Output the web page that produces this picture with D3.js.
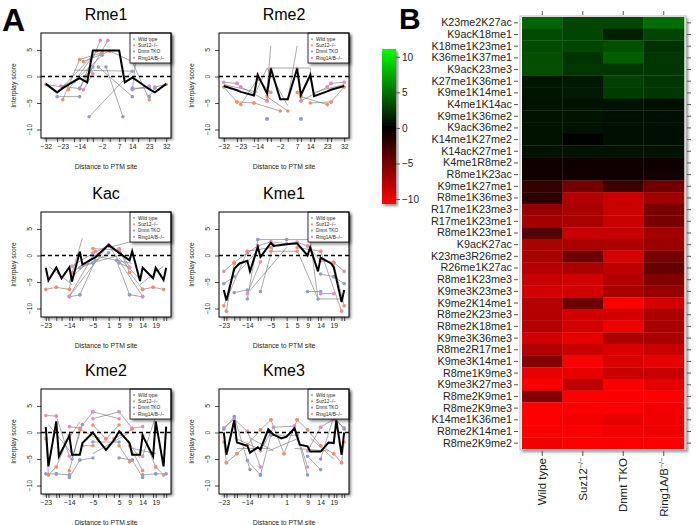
<!DOCTYPE html>
<html><head><meta charset="utf-8">
<script src="https://cdn.jsdelivr.net/npm/d3@7"></script>
<style>body{margin:0;background:#fff}svg{display:block;font-family:"Liberation Sans",Arial,sans-serif}</style>
</head><body><svg id="c" width="696" height="525"></svg>
<script>
// ---------- DATA ----------
const groupNames = ["Wild type", "Suz12\u2212/\u2212", "Dnmt TKO", "Ring1A/B\u2212/\u2212"];
const groupColors = ["#66C2A5", "#FC8D62", "#8DA0CB", "#E78AC3"];
const yTickVals = [-10, -5, 0, 5];

// Rme1
const rme1Pos = [-32,-26,-23,-17,-14,-10,-7,-2,2,7,10,14,17,23,26,32];
const rme1Mean = [-1.4,-3.0,-2.2,-0.9,-0.3,-1.1,4.9,4.9,4.9,4.9,-1.1,-0.2,-0.9,-2.4,-3.0,-1.4];
const rme1Labels = [-32,-23,-14,-2,7,14,23,32];
const rme1Segs = [
 [1,-32,-1.5,-23,-2.0],[1,-23,-4.4,-14,3.2],[1,-14,3.2,-2,4.5],[1,-12,2.8,2,4.8],[1,2,4.8,14,2.8],
 [1,14,2.8,23,-4.4],[1,26,-2.0,32,-1.5],[1,-20,-2.5,-5,4.8],
 [3,-24,-1.8,-14,-2.3],[3,-14,-2.3,-3,6.8],[3,-10,0.0,1,6.8],[3,14,-2.5,23,-1.8],[3,14,-2.5,16,3.5],[3,-12,-2.5,-7,0.5],
 [2,-26,-3.8,-14,-3.8],[2,-14,-2.2,-7,1.8],[2,-9,-7.6,14,1.0],[2,9,-7.6,0,1.8],[2,-4,1.8,14,-3.8],[2,23,-3.8,26,-2.2],
 [2,-23,-2.0,-7,4.0],[2,-17,-1.0,-2,4.0],[2,14,-2.2,23,-2.2],
 [-1,-17,1.2,15,1.0],[-1,-7,1.0,-23,-1.8]
];

// Rme2
const rme2Pos = [-32,-25,-23,-16,-14,-9,-7,-2,2,7,9,14,16,23,25,32];
const rme2Mean = [-1.8,-2.6,-2.9,-3.6,0.3,-3.2,1.5,-4.3,-4.3,1.5,-3.5,0.3,-3.7,-2.8,-2.5,-1.8];
const rme2Labels = [-32,-23,-14,-2,7,14,23,32];
const rme2Segs = [
 [1,-32,-2.0,-25,-4.8],[1,-25,-4.8,-16,-5.0],[1,-16,-5.0,-2,-6.5],[1,-23,-5.3,-14,-0.5],[1,-9,-3.8,2,-6.5],
 [1,7,-3.0,9,-3.8],[1,9,-3.8,23,-5.3],[1,14,-5.0,25,-4.8],[1,25,-4.8,32,-2.0],[1,-14,-0.5,-7,-3.0],
 [3,-32,-1.1,-25,-1.3],[3,-25,-1.3,-23,-2.0],[3,-23,-2.0,-9,-4.6],[3,-9,-4.6,-7,1.5],[3,7,1.5,9,-4.6],
 [3,9,-4.6,23,-2.0],[3,23,-2.0,25,-1.3],[3,25,-1.3,32,-1.1],
 [2,-9,-8.0,-9,-8.0],[2,9,-8.0,9,-8.0],
 [-1,-9,-2.5,-7,5.8],[-1,2,-4.3,7,5.8],[-1,-7,1.6,14,1.6],[-1,14,1.6,14,-1.0],[-1,-16,-3.7,-9,1.6],
 [-1,-9,1.6,2,-5.5],[-1,-32,-1.5,-14,-3.0],[-1,16,-3.0,32,-1.5]
];

// Kac
const kacPos = [-23,-22,-19,-17,-14,-13,-10,-9,-5,-4,1,5,9,10,13,14,18,19,22,23];
const kacMean = [-2.3,-4.7,-2.3,-4.3,-2.2,-4.9,0.7,-1.7,-0.6,-0.3,2.0,0.5,-0.9,0.8,-4.8,-2.3,-4.3,-2.3,-4.6,-2.3];
const kacLabels = [-23,-14,-5,1,5,9,14,19];
const kacSegs = [
 [1,-23,-6.4,-19,-6.0],[1,-19,-6.0,-14,-6.4],[1,-14,-6.4,-13,-3.2],[1,-13,-3.2,1,1.9],[1,-5,1.3,5,1.0],
 [1,5,1.3,9,-3.2],[1,9,-3.2,14,-6.4],[1,14,-6.4,18,-6.0],[1,18,-6.0,22,-6.4],[1,-14,-7.7,-4,0.8],
 [2,-14,-7.8,-10,-7.4],[2,-10,-7.4,-4,-0.9],[2,-10,-2.3,-5,-1.4],[2,-5,-1.4,1,0.5],[2,5,-1.4,9,-2.3],
 [2,9,-7.4,14,-7.8],[2,4,-0.9,9,-7.4],
 [3,-14,-7.7,1,2.0],[3,-13,-2.0,-5,0.4],[3,-5,0.4,1,1.9],[3,5,1.2,9,-2.2],[3,1,1.9,14,-7.7],
 [-1,-14,-5.0,-9,3.3],[-1,1,1.5,19,3.8],[-1,-13,-4.0,-5,-0.5],[-1,5,-0.5,13,-4.5],
 [-1,-10,-2.0,5,0.0],[-1,-5,0.0,10,-1.5],[-1,-22,-2.0,-13,-5.5],[-1,13,-5.5,22,-2.0]
];

// Kme1
const kme1Pos = [-23,-22,-19,-17,-14,-13,-10,-9,-5,-4,1,5,9,10,13,14,18,19,22,23];
const kme1Mean = [-6.5,-8.5,-2.5,-1.5,-1.0,-3.0,1.6,-0.3,2.4,1.8,2.1,2.3,0.0,1.5,-3.0,-0.4,-1.5,-2.2,-8.8,-6.5];
const kme1Labels = [-23,-14,-5,1,5,9,14,19];
const kme1Segs = [
 [3,-23,-3.0,-19,-1.3],[3,-19,-1.3,-14,0.5],[3,-14,0.5,-10,1.8],[3,-10,1.8,-5,2.6],[3,-5,2.6,1,2.2],
 [3,1,2.2,5,2.5],[3,5,2.5,9,1.8],[3,9,1.8,14,-1.0],[3,14,-1.0,19,-1.3],[3,19,-1.3,23,-3.0],
 [1,-22,-10.5,-19,-1.5],[1,-23,-9.5,-14,0.8],[1,-14,0.8,-5,1.5],[1,-5,0.8,5,0.8],[1,5,1.5,14,0.8],
 [1,14,0.8,22,-10.5],[1,19,-1.5,23,-9.5],
 [2,-23,-5.3,-19,-4.0],[2,-19,-7.0,-14,-6.5],[2,-14,-8.2,-10,3.0],[2,-10,3.0,1,3.0],[2,-9,-6.8,-4,2.0],
 [2,1,3.0,10,3.0],[2,9,-6.8,14,-6.8],[2,10,3.0,13,-8.2],[2,14,-3.5,19,-4.0],[2,19,-4.0,23,-5.3],
 [3,-14,-7.2,-9,-1.2],[3,14,-7.2,19,-7.2],
 [-1,-13,-6.6,1,1.5],[-1,5,1.0,13,-8.2],[-1,13,-8.2,22,-8.2],[-1,-19,-4.0,-10,1.0]
];

// Kme2
const kme2Pos = [-23,-22,-19,-18,-14,-13,-10,-9,-5,-3,0,3,5,9,10,13,14,18,19,22,23];
const kme2Mean = [1.0,-6.4,2.1,-4.5,-0.6,-4.2,-4.2,-2.0,0.0,-1.4,-3.3,-1.5,0.2,-2.0,-4.2,-4.2,-0.6,-4.5,2.1,-6.4,1.1];
const kme2Labels = [-23,-14,-5,1,5,9,14,19];
const kme2Segs = [
 [3,-23,3.2,-19,3.1],[3,-19,3.1,-14,-4.5],[3,-14,1.1,-10,0.8],[3,-10,0.8,-5,3.9],[3,-5,3.9,5,2.6],
 [3,-5,2.6,5,3.9],[3,5,3.9,10,0.8],[3,10,0.8,14,1.1],[3,14,-4.5,19,3.1],[3,19,3.1,23,3.2],
 [1,-22,-8.0,-19,-6.5],[1,-19,-6.5,-14,-0.5],[1,-14,-7.2,-10,0.6],[1,-10,0.6,-3,-1.2],[1,-5,1.4,0,-1.2],
 [1,0,-1.2,5,1.4],[1,3,-1.2,10,0.6],[1,9,-2.5,14,-7.2],[1,14,-0.5,19,-6.5],[1,19,-6.5,22,-8.0],
 [1,-9,-2.5,-5,-2.5],[1,5,-2.5,9,-5.5],[1,-23,-1.2,-22,-8.0],
 [2,-23,-7.8,-19,-7.8],[2,-19,-7.8,-14,-8.0],[2,-14,-8.5,-10,-5.2],[2,-10,-5.2,-5,-4.8],[2,5,-4.8,10,-5.2],
 [2,10,-5.2,14,-8.5],[2,14,-8.0,19,-7.8],[2,19,-7.8,23,-7.8],[2,-5,-1.8,5,-1.8],[2,-13,-5.0,-9,1.5],
 [-1,-22,1.5,-13,-4.0],[-1,-18,-4.0,-10,2.0],[-1,-5,-4.0,9,0.0],[-1,10,-3.0,19,-4.0],[-1,5,0.5,13,-4.8]
];

// Kme3
const kme3Pos = [-23,-22,-19,-18,-14,-13,-10,-9,-6,-4,-1,1,4,6,9,10,14,17,19,20,22,23];
const kme3Mean = [0.0,-4.2,2.3,-1.9,-2.5,-3.8,-2.8,-3.2,0.6,-0.4,-1.1,-0.8,0.8,-2.3,-2.6,-3.6,-3.6,-1.9,-2.0,2.3,-4.2,0.0];
const kme3Labels = [-23,-14,-5,1,5,9,14,19];
const kme3Segs = [
 [3,-23,0.9,-19,2.5],[3,-19,2.5,-14,0.2],[3,-14,0.2,-9,-6.5],[3,-9,-3.5,-4,1.0],[3,-4,1.0,4,1.2],
 [3,4,1.2,9,-6.5],[3,9,-3.5,14,1.0],[3,14,1.0,19,2.5],[3,19,2.5,23,0.9],
 [2,-23,0.6,-19,3.0],[2,-19,3.0,-13,-7.0],[2,-14,-5.3,-9,-8.0],[2,-9,-8.0,-5,-0.5],[2,-5,-0.5,5,-0.5],
 [2,5,-0.5,9,-8.0],[2,9,-4.5,14,-7.0],[2,14,-5.0,19,3.0],[2,19,3.0,23,0.6],
 [1,-23,-1.8,-22,-5.7],[1,-22,-5.7,-18,-4.0],[1,-18,-4.0,-14,-2.3],[1,-14,-2.3,-9,0.5],[1,-9,0.5,-5,2.4],
 [1,-5,2.4,0,-4.0],[1,0,-4.0,5,2.4],[1,5,2.4,9,0.5],[1,9,0.5,14,-2.5],[1,14,-2.5,19,-4.0],
 [1,19,-4.0,22,-5.7],[1,22,-5.7,23,-1.8],
 [-1,-19,-1.0,-10,-3.0],[-1,-13,-1.0,-4,-3.5],[-1,-6,-3.5,6,-1.0],[-1,4,-3.0,17,-3.5],
 [-1,10,-1.0,19,-5.0],[-1,-18,-3.0,-6,-3.0]
];

// Heatmap
const heatRows = ["K23me2K27ac","K9acK18me1","K18me1K23me1","K36me1K37me1","K9acK23me3","K27me1K36me1",
 "K9me1K14me1","K4me1K14ac","K9me1K36me2","K9acK36me2","K14me1K27me2","K14acK27me1","K4me1R8me2",
 "R8me1K23ac","K9me1K27me1","R8me1K36me3","R17me1K23me3","R17me1K23me1","R8me1K23me1","K9acK27ac",
 "K23me3R26me2","R26me1K27ac","R8me1K23me3","K9me3K23me3","K9me2K14me1","R8me2K23me3","R8me2K18me1",
 "K9me3K36me3","R8me2R17me1","K9me3K14me1","R8me1K9me3","K9me3K27me3","R8me2K9me1","R8me2K9me3",
 "K14me1K36me1","R8me2K14me1","R8me2K9me2"];
const heatCols = ["Wild type","Suz12","Dnmt TKO","Ring1A/B"];
const heatColSup = ["","\u2212/\u2212","","\u2212/\u2212"];
const heatWT   = [4.4,3.3,3.3,3.5,3.5,0.9,0.9,0.8,0.8,0.8,0.8,0.8,-0.6,-0.7,-2.1,-1.9,-6.3,-6.9,-3.4,-7.1,-7.1,-7.6,-8.4,-8.8,-7.6,-7.6,-7.6,-8.8,-7.6,-5.5,-9.7,-10.5,-5.5,-10.7,-10.7,-10.5,-10.1];
const heatSuz  = [3.0,3.0,3.0,2.2,2.4,1.1,1.1,0.8,0.9,0.8,0.1,0.8,-0.6,-0.7,-4.8,-7.6,-7.1,-7.1,-8.4,-7.1,-4.6,-7.1,-8.8,-8.8,-4.6,-8.8,-8.8,-9.7,-8.4,-10.5,-9.7,-8.0,-10.7,-10.5,-10.3,-10.5,-10.5];
const heatDnmt = [3.0,1.5,3.5,4.1,2.4,2.8,2.6,0.8,0.7,0.7,0.7,0.8,-0.6,-0.7,-2.5,-8.4,-8.4,-8.4,-8.4,-7.3,-9.0,-8.0,-7.6,-7.1,-10.7,-8.8,-10.1,-7.1,-9.2,-9.2,-8.4,-10.5,-10.5,-10.5,-9.7,-10.3,-10.5];
const heatRing = [4.8,3.0,2.2,2.4,2.4,2.4,2.4,0.7,0.7,0.7,0.7,0.8,-0.6,-0.8,-4.6,-6.7,-5.0,-5.0,-6.9,-6.5,-5.0,-4.2,-5.5,-6.3,-8.8,-7.1,-7.1,-7.1,-8.4,-9.7,-8.4,-9.7,-10.7,-10.1,-10.1,-10.1,-10.5];
const legendTicks = [10, 5, 0, -5, -10];

// ---------- DRAW ----------
const svg = d3.select("#c");
const defs = svg.append("defs");
const sh = defs.append("filter").attr("id","sh").attr("x","-10%").attr("y","-10%").attr("width","130%").attr("height","130%");
sh.append("feDropShadow").attr("dx",2).attr("dy",2).attr("stdDeviation",1.6).attr("flood-color","#000").attr("flood-opacity",0.45);

const fmt = v => (v < 0 ? "\u2212" + Math.abs(v) : String(v));

const panels = [
 {name:"Rme1", pos:rme1Pos, mean:rme1Mean, labels:rme1Labels, segs:rme1Segs, xmax:32, col:0, row:0},
 {name:"Rme2", pos:rme2Pos, mean:rme2Mean, labels:rme2Labels, segs:rme2Segs, xmax:32, col:1, row:0},
 {name:"Kac",  pos:kacPos,  mean:kacMean,  labels:kacLabels,  segs:kacSegs,  xmax:23, col:0, row:1},
 {name:"Kme1", pos:kme1Pos, mean:kme1Mean, labels:kme1Labels, segs:kme1Segs, xmax:23, col:1, row:1},
 {name:"Kme2", pos:kme2Pos, mean:kme2Mean, labels:kme2Labels, segs:kme2Segs, xmax:23, col:0, row:2},
 {name:"Kme3", pos:kme3Pos, mean:kme3Mean, labels:kme3Labels, segs:kme3Segs, xmax:23, col:1, row:2}
];
const colX = [[41,171],[219,349]];
const rowY = [[33,138],[212,317],[389,494]];

panels.forEach((p, pi) => {
  const [x0, x1] = colX[p.col], [y0, y1] = rowY[p.row];
  const x = d3.scaleLinear().domain([-p.xmax*1.08, p.xmax*1.08]).range([x0, x1]);
  const y = d3.scaleLinear().domain([-11.6, 8.2]).range([y1, y0]);
  const g = svg.append("g");
  defs.append("clipPath").attr("id","cl"+pi).append("rect").attr("x",x0).attr("y",y0).attr("width",x1-x0).attr("height",y1-y0);

  g.append("rect").attr("x",x0).attr("y",y0).attr("width",x1-x0).attr("height",y1-y0)
    .attr("fill","#fff").attr("filter","url(#sh)");

  const inner = g.append("g").attr("clip-path","url(#cl"+pi+")");
  inner.selectAll("line.seg").data(p.segs).join("line")
    .attr("x1",d=>x(d[1])).attr("y1",d=>y(d[2])).attr("x2",d=>x(d[3])).attr("y2",d=>y(d[4]))
    .attr("stroke","#7a7a7a").attr("stroke-width",0.65);
  const pts = [];
  p.segs.forEach(s => { if (s[0] >= 0) { pts.push([s[0], s[1], s[2]]); pts.push([s[0], s[3], s[4]]); } });
  inner.selectAll("circle").data(pts).join("circle")
    .attr("cx",d=>x(d[1])).attr("cy",d=>y(d[2])).attr("r",1.8)
    .attr("fill",d=>groupColors[d[0]]);
  inner.append("line").attr("x1",x0).attr("x2",x1).attr("y1",y(0)).attr("y2",y(0))
    .attr("stroke","#000").attr("stroke-width",1.4).attr("stroke-dasharray","4,3");
  inner.append("path").datum(p.pos.map((v,i)=>[v,p.mean[i]]))
    .attr("d", d3.line().x(d=>x(d[0])).y(d=>y(d[1])))
    .attr("fill","none").attr("stroke","#000").attr("stroke-width",2).attr("stroke-linejoin","miter");

  // legend inside plot
  const lg = g.append("g");
  const lx0 = x1 - 41, ly0 = y0;
  lg.append("rect").attr("x",lx0).attr("y",ly0).attr("width",41).attr("height",30)
    .attr("fill","#fff").attr("stroke","#000").attr("stroke-width",0.8).attr("filter","url(#sh)");
  groupNames.forEach((n,i) => {
    lg.append("circle").attr("cx",lx0+4).attr("cy",ly0+6+i*6.3).attr("r",1.1).attr("fill",groupColors[i]);
    lg.append("text").attr("x",lx0+8).attr("y",ly0+7.7+i*6.3).attr("font-size",4.7).attr("fill","#222").text(n);
  });

  g.append("rect").attr("x",x0).attr("y",y0).attr("width",x1-x0).attr("height",y1-y0)
    .attr("fill","none").attr("stroke","#000").attr("stroke-width",1);

  // x axis
  const xa = d3.axisBottom(x).tickValues(p.pos).tickSize(4).tickPadding(2)
    .tickFormat(d => p.labels.includes(d) ? fmt(d) : "");
  const xg = g.append("g").attr("transform",`translate(0,${y1})`).call(xa);
  xg.select(".domain").remove();
  xg.selectAll("text").attr("font-size",6.8).attr("fill","#222").attr("font-family","Liberation Sans, Arial, sans-serif");
  xg.selectAll("line").attr("stroke","#000").attr("stroke-width",0.7);
  g.append("text").attr("x",(x0+x1)/2).attr("y",y1+30.5).attr("text-anchor","middle")
    .attr("font-size",6.8).attr("fill","#222").text("Distance to PTM site");

  // y axis
  const ya = d3.axisLeft(y).tickValues(yTickVals).tickSize(4).tickFormat("");
  const yg = g.append("g").attr("transform",`translate(${x0},0)`).call(ya);
  yg.select(".domain").remove();
  yg.selectAll("line").attr("stroke","#000").attr("stroke-width",0.7);
  yTickVals.forEach(v => {
    g.append("text").attr("transform",`translate(${x0-9.5},${y(v)}) rotate(-90)`)
      .attr("text-anchor","middle").attr("font-size",6.8).attr("fill","#222").text(fmt(v));
  });
  g.append("text").attr("transform",`translate(${x0-25.5},${(y0+y1)/2}) rotate(-90)`)
    .attr("text-anchor","middle").attr("font-size",6.8).attr("fill","#222").text("Interplay score");

  g.append("text").attr("x",(x0+x1)/2).attr("y",y0-13).attr("text-anchor","middle")
    .attr("font-size",16).attr("fill","#000").text(p.name);
});

svg.append("text").attr("x",2).attr("y",31).attr("font-size",32).attr("font-weight","bold").text("A");
svg.append("text").attr("x",399).attr("y",29).attr("font-size",30).attr("font-weight","bold").text("B");

// ---------- heatmap ----------
const hx = d3.scaleBand().domain(heatCols).range([522,684]);
const hy = d3.scaleBand().domain(heatRows).range([17,449]);
const color = d3.scaleLinear().domain([-10.7,0,11.1]).range(["#ff0000","#000000","#00ff00"]);
const heatCells = [];
heatRows.forEach((r,i) => {
  [heatWT,heatSuz,heatDnmt,heatRing].forEach((arr,j) => heatCells.push({r, c:heatCols[j], v:arr[i]}));
});
const hg = svg.append("g");
hg.append("rect").attr("x",520).attr("y",16).attr("width",166).attr("height",434)
  .attr("fill","#fff").attr("filter","url(#sh)");
hg.selectAll("rect.cell").data(heatCells).join("rect").attr("class","cell")
  .attr("x",d=>hx(d.c)).attr("y",d=>hy(d.r)).attr("width",hx.bandwidth()+0.3).attr("height",hy.bandwidth()+0.3)
  .attr("fill",d=>color(d.v));
hg.append("rect").attr("x",520).attr("y",16).attr("width",166).attr("height",434)
  .attr("fill","none").attr("stroke","#bbb").attr("stroke-width",1);
// left labels
const la = d3.axisLeft(hy).tickSize(4).tickPadding(2);
const lag = hg.append("g").attr("transform","translate(518,0)").call(la);
lag.select(".domain").remove();
lag.selectAll("text").attr("font-size",10.8).attr("fill","#222").attr("font-family","Liberation Sans, Arial, sans-serif");
lag.selectAll("line").attr("stroke","#555");
// right ticks
const ra = d3.axisRight(hy).tickSize(4).tickFormat("");
const rag = hg.append("g").attr("transform","translate(687,0)").call(ra);
rag.select(".domain").remove(); rag.selectAll("line").attr("stroke","#555");
// top ticks
const ta = d3.axisTop(hx).tickSize(4).tickFormat("");
const tag = hg.append("g").attr("transform","translate(0,15)").call(ta);
tag.select(".domain").remove(); tag.selectAll("line").attr("stroke","#555");
// bottom ticks and labels
const ba = d3.axisBottom(hx).tickSize(5).tickFormat("");
const bag = hg.append("g").attr("transform","translate(0,451)").call(ba);
bag.select(".domain").remove(); bag.selectAll("line").attr("stroke","#555");
heatCols.forEach((c,i) => {
  const t = hg.append("text").attr("transform",`translate(${hx(c)+hx.bandwidth()/2+4},${458}) rotate(-90)`)
    .attr("text-anchor","end").attr("font-size",11.5).attr("fill","#222");
  t.append("tspan").text(c);
  if (heatColSup[i]) t.append("tspan").attr("font-size",7).attr("dy",-4).text(heatColSup[i]);
});

// color legend
const ly = d3.scaleLinear().domain([-10.7,11.1]).range([204,49]);
const grad = defs.append("linearGradient").attr("id","gr").attr("x1",0).attr("y1",1).attr("x2",0).attr("y2",0);
[-10.7,0,11.1].forEach(v => grad.append("stop").attr("offset",(v+10.7)/21.8).attr("stop-color",color(v)));
svg.append("rect").attr("x",382).attr("y",ly(11.1)).attr("width",14).attr("height",ly(-10.7)-ly(11.1))
  .attr("fill","url(#gr)").attr("filter","url(#sh)");
const lga = d3.axisRight(ly).tickValues(legendTicks).tickSize(4).tickPadding(2).tickFormat(fmt);
const lgg = svg.append("g").attr("transform","translate(396,0)").call(lga);
lgg.select(".domain").remove();
lgg.selectAll("text").attr("font-size",10).attr("fill","#222").attr("font-family","Liberation Sans, Arial, sans-serif");
lgg.selectAll("line").attr("stroke","#555");
</script></body></html>
